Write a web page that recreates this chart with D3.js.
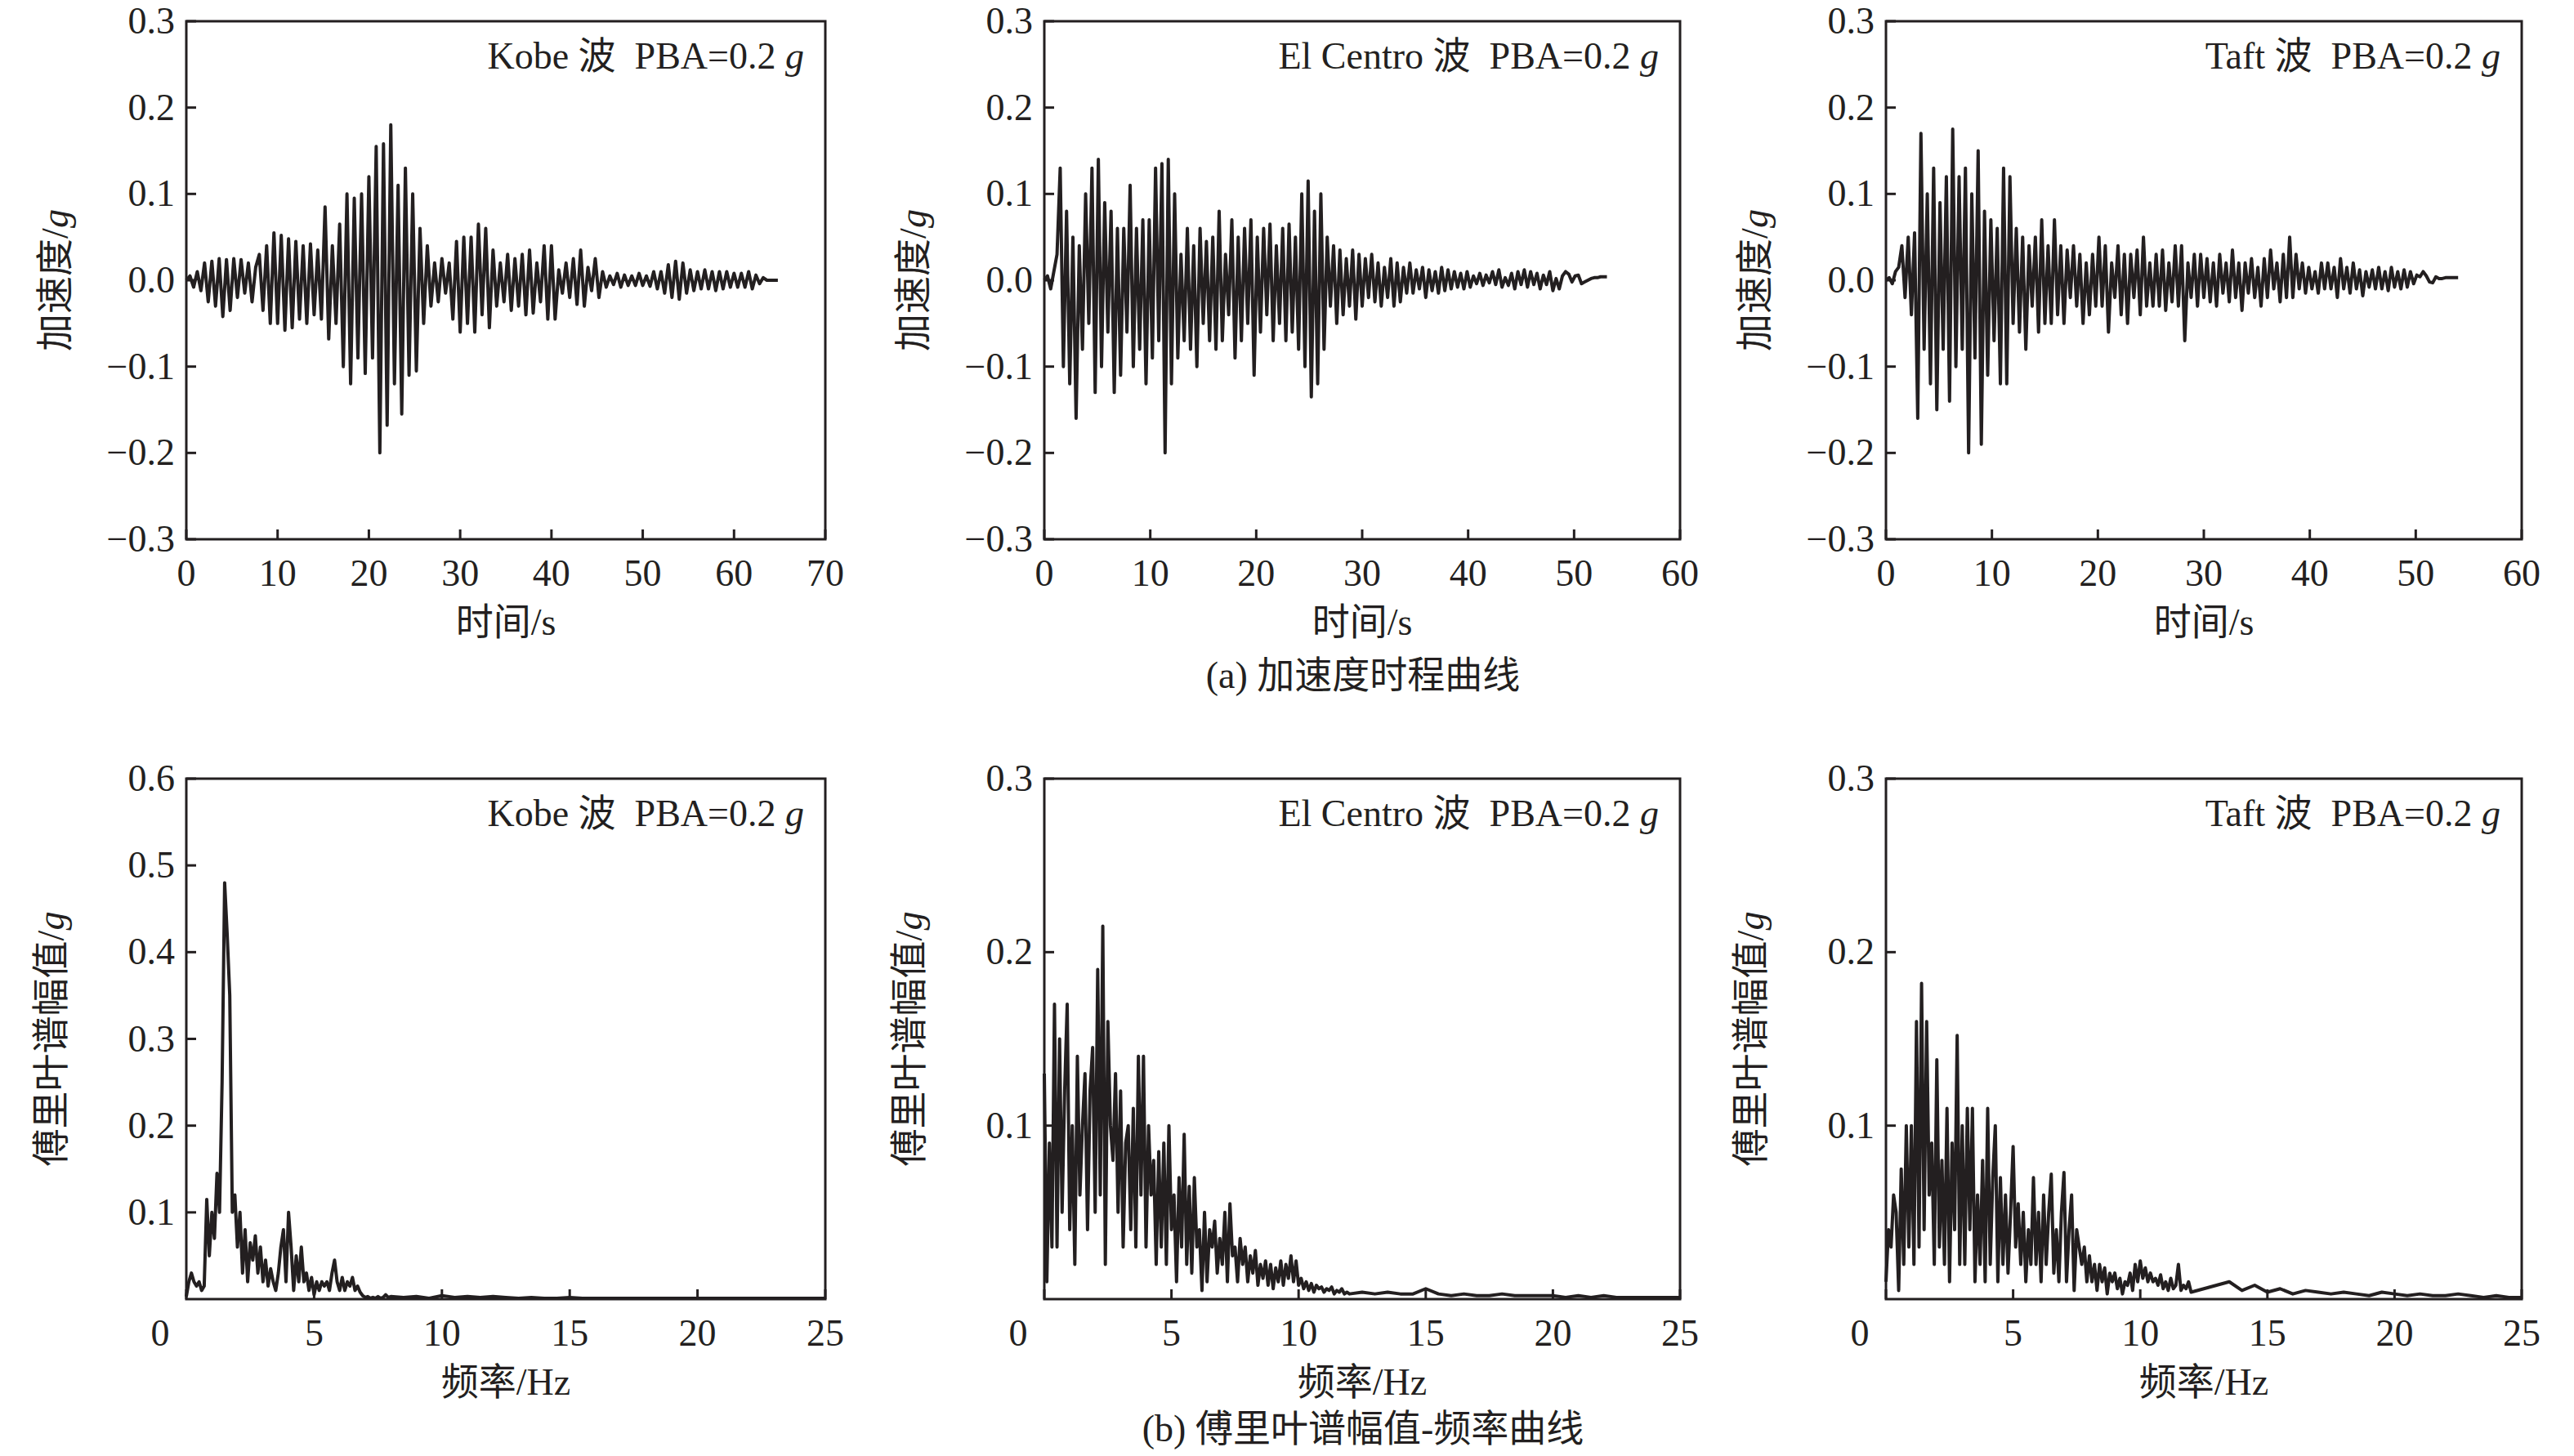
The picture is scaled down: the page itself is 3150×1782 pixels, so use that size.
<!DOCTYPE html>
<html><head><meta charset="utf-8">
<script src="https://cdn.jsdelivr.net/npm/d3@7"></script>
<style>
body{margin:0;background:#fff;}
text{font-family:"Liberation Serif","Noto Sans CJK SC",serif;fill:#231f20;}
</style></head>
<body><svg id="c" width="3150" height="1782"></svg>
<script>
// acceleration records, uniform time step
var kobeDt = 0.4;
var kobeAcc = [0,0.005,-0.008,0.01,-0.012,
 0.02,-0.025,0.022,-0.03,0.025,-0.042,0.024,-0.035,0.025,-0.02,0.024,-0.015,
 0.02,-0.025,0.015,
 0.03,-0.035,0.04,-0.05,0.055,-0.05,0.052,-0.058,0.048,-0.055,0.045,-0.045,0.04,-0.05,0.042,-0.04,0.035,-0.045,
 0.085,-0.068,0.04,-0.05,0.065,
 -0.1,0.1,-0.12,0.095,-0.09,0.1,-0.108,0.12,
 -0.09,0.155,-0.2,0.158,-0.168,0.18,-0.12,0.11,-0.155,0.13,
 -0.11,0.1,-0.105,0.06,-0.05,0.04,-0.03,
 0.02,-0.025,0.025,-0.015,0.02,
 -0.045,0.045,-0.06,0.05,-0.05,0.05,-0.06,0.065,-0.04,0.06,-0.055,0.035,-0.03,0.02,-0.025,
 0.03,-0.035,0.025,-0.03,0.03,-0.04,0.035,-0.038,0.02,-0.025,0.04,-0.045,0.04,-0.045,0.012,-0.015,0.02,-0.02,0.025,-0.028,0.035,-0.03,0.015,-0.012,0.025,-0.02,0.01,-0.008,
 0.005,-0.005,0.008,-0.008,0.006,-0.006,0.005,-0.006,0.008,-0.006,0.005,-0.007,0.01,-0.01,0.01,
 -0.015,0.018,-0.02,0.022,-0.022,0.02,-0.015,0.012,-0.012,0.01,-0.01,0.012,-0.01,0.01,-0.012,
 0.01,-0.01,0.01,-0.008,0.008,-0.008,0.008,-0.008,0.01,-0.01,0.006,-0.004,
 0.003,0,0,0,0];

var elcDt = 0.3;
var elcAcc = [0,0.005,-0.01,0.01,
 0.03,0.13,-0.1,0.08,-0.12,0.05,-0.16,0.04,-0.08,0.1,-0.05,0.13,-0.13,0.14,-0.1,0.09,-0.06,0.08,-0.13,0.06,-0.11,0.06,-0.06,0.11,-0.1,0.06,-0.08,0.07,-0.12,0.07,-0.09,0.13,-0.07,0.135,-0.2,0.14,
 -0.12,0.1,-0.09,0.03,-0.07,0.06,-0.08,0.04,-0.1,0.06,-0.05,0.045,-0.07,0.05,-0.08,0.08,-0.07,0.03,-0.04,0.07,-0.09,0.05,-0.07,0.06,-0.05,0.07,-0.11,0.05,-0.06,0.06,-0.04,0.065,-0.07,0.04,-0.05,0.06,-0.07,0.065,-0.06,0.05,
 -0.08,0.1,-0.1,0.115,-0.135,0.08,-0.12,0.1,-0.08,0.05,
 -0.03,0.04,-0.05,0.035,-0.04,0.025,-0.03,0.035,-0.045,0.03,
 -0.03,0.025,-0.02,0.03,-0.025,0.02,-0.03,0.015,-0.02,0.025,-0.03,0.02,-0.025,0.015,-0.015,0.02,-0.015,0.012,-0.01,0.015,-0.02,0.012,-0.012,0.01,-0.015,0.015,-0.012,0.012,-0.01,0.01,-0.008,0.008,-0.01,
 0.01,-0.008,0.005,-0.004,0.008,-0.006,0.006,-0.003,0.01,-0.005,0.012,-0.008,0.003,-0.006,0.008,-0.01,0.01,-0.005,0.012,-0.008,0.01,-0.005,0.008,-0.01,0.006,-0.005,0.01,-0.012,0.002,-0.01,0.005,0.01,0.007,-0.002,0.005,0.006,-0.004,-0.002,0,0.002,0.003,0.003,0.004,0.004,0.004];

var taftDt = 0.3;
var taftAcc = [0,0.003,-0.004,0.01,0.015,
 0.04,-0.02,0.05,-0.04,0.055,
 -0.16,0.17,-0.08,0.1,-0.12,0.13,-0.15,0.09,-0.08,0.12,-0.14,0.175,-0.1,0.12,-0.08,0.13,-0.2,0.1,-0.09,0.15,-0.19,0.08,-0.11,0.07,-0.07,0.06,-0.12,0.13,-0.12,0.12,
 -0.05,0.06,-0.06,0.05,-0.08,0.04,-0.03,0.05,-0.06,0.07,-0.05,0.04,-0.05,
 0.07,-0.04,0.04,-0.05,0.035,-0.02,0.04,-0.03,0.03,-0.05,0.02,-0.04,0.03,-0.03,0.05,-0.03,0.04,-0.06,0.02,-0.02,0.04,-0.04,0.03,-0.05,0.03,-0.02,0.035,-0.04,0.05,-0.03,0.02,-0.03,0.03,-0.03,0.035,-0.035,0.02,-0.025,0.04,-0.03,0.04,-0.07,0.02,-0.02,0.03,-0.03,0.03,
 -0.02,0.025,-0.025,0.02,-0.03,0.03,-0.015,0.02,-0.025,0.035,-0.02,0.02,-0.035,0.02,-0.015,0.025,-0.02,0.015,-0.03,0.025,-0.02,0.035,-0.01,0.02,-0.025,0.03,-0.02,0.05,-0.02,0.03,-0.01,0.02,-0.015,
 0.015,-0.01,0.01,-0.015,0.02,-0.01,0.02,-0.01,0.015,-0.02,0.025,-0.01,0.015,-0.015,0.02,-0.01,0.012,-0.018,0.01,-0.008,0.012,-0.01,0.015,-0.01,0.01,-0.012,0.015,-0.008,0.01,-0.01,0.012,-0.008,0.01,
 -0.004,0.006,0.004,0.01,0.005,-0.002,-0.003,0.004,0.002,0.002,0.003,0.003,0.003,0.003,0.003];

// Fourier amplitude: dense part every 0.1 Hz from 0, tail every 0.5 Hz
var kobeFas = [0.003,0.02,0.03,0.02,0.015,0.02,0.01,0.015,0.115,0.05,
 0.1,0.07,0.145,0.1,0.25,0.48,0.42,0.35,0.1,0.12,
 0.06,0.1,0.03,0.08,0.02,0.065,0.045,0.073,0.03,0.06,
 0.02,0.045,0.015,0.035,0.02,0.01,0.03,0.06,0.08,0.02,
 0.1,0.06,0.01,0.05,0.02,0.06,0.02,0.03,0.01,0.025,
 0.005,0.02,0.01,0.02,0.015,0.02,0.01,0.03,0.045,0.02,
 0.01,0.025,0.01,0.02,0.015,0.025,0.01,0.015,0.008,0.004,
 0.002,0.003,0.001,0.002,0.001,0.003,0.001,0.002,0.005,0.002,0.003];
var kobeTail = [0.002,0.003,0.001,0.004,0.002,0.003,0.002,0.003,0.002,0.001,0.002,0.001,0.001,0.002,0.001,0.001,0.001,
 0.001,0.001,0.001,0.001,0.001,0.001,0.001,0.001,0.001,0.001,0.001,0.001,0.001,0.001,0.001,0.001,0.001];
var elcFas = [0.13,0.01,0.09,0.03,0.17,0.03,0.15,0.05,0.12,0.17,
 0.04,0.1,0.02,0.14,0.06,0.1,0.13,0.04,0.12,0.145,
 0.05,0.19,0.06,0.215,0.02,0.16,0.1,0.08,0.13,0.05,
 0.12,0.03,0.09,0.1,0.04,0.11,0.03,0.14,0.06,0.14,
 0.03,0.1,0.06,0.08,0.02,0.085,0.03,0.09,0.02,0.1,
 0.04,0.06,0.01,0.07,0.03,0.095,0.02,0.065,0.015,0.07,
 0.03,0.04,0.005,0.05,0.01,0.04,0.03,0.045,0.015,0.035,
 0.02,0.05,0.01,0.055,0.025,0.03,0.01,0.035,0.02,0.03,
 0.01,0.025,0.015,0.028,0.008,0.02,0.012,0.022,0.008,0.02,
 0.006,0.018,0.01,0.022,0.008,0.02,0.012,0.025,0.01,0.022,
 0.008,0.012,0.006,0.01,0.005,0.009,0.004,0.008,0.006,0.007,
 0.004,0.006,0.005,0.007,0.003,0.005,0.004,0.006,0.003,0.004,0.003];
var elcTail = [0.004,0.003,0.004,0.003,0.003,0.006,0.003,0.002,0.003,0.002,0.002,0.003,0.002,
 0.002,0.002,0.002,0.001,0.002,0.001,0.002,0.001,0.001,0.001,0.001,0.001,0.001];
var taftFas = [0.01,0.04,0.03,0.06,0.05,0.005,0.075,0.02,0.1,0.03,
 0.1,0.02,0.16,0.03,0.182,0.04,0.16,0.06,0.09,0.02,
 0.138,0.03,0.08,0.02,0.11,0.01,0.09,0.04,0.152,0.02,
 0.1,0.02,0.11,0.04,0.11,0.01,0.06,0.02,0.08,0.01,
 0.11,0.02,0.07,0.1,0.01,0.07,0.02,0.06,0.015,0.05,
 0.088,0.03,0.055,0.02,0.05,0.01,0.04,0.02,0.07,0.02,
 0.05,0.01,0.06,0.02,0.05,0.072,0.015,0.04,0.01,0.05,
 0.073,0.01,0.04,0.06,0.005,0.04,0.03,0.02,0.03,0.01,
 0.025,0.01,0.02,0.005,0.02,0.01,0.018,0.003,0.015,0.01,
 0.015,0.006,0.012,0.003,0.01,0.008,0.015,0.005,0.02,0.01,
 0.022,0.012,0.018,0.01,0.015,0.01,0.012,0.008,0.014,0.006,
 0.01,0.005,0.012,0.006,0.008,0.02,0.005,0.008,0.006,0.01,0.004];
var taftTail = [0.006,0.008,0.01,0.005,0.008,0.004,0.006,0.003,0.005,0.004,0.003,0.004,0.003,0.002,0.004,0.003,
 0.002,0.003,0.002,0.002,0.003,0.002,0.001,0.002,0.001,0.001];

var waveNames = ["Kobe 波", "El Centro 波", "Taft 波"];
var accTicks = [-0.3,-0.2,-0.1,0,0.1,0.2,0.3];
var timeMax = [70, 60, 60];
var fasMax = [0.6, 0.3, 0.3];
var freqTicks = [0,5,10,15,20,25];

var svg = d3.select("#c");
var colX = [[228,1010],[1278,2056],[2308,3086]];
var rowY = [[26,660],[953,1590]];
var fs = 46;

var fmt = d => d < 0 ? "\u2212" + Math.abs(d).toFixed(1) : d.toFixed(1);

function frame(g, x, y){
    var r = x.range(), t = y.range();
    g.append("rect").attr("x", r[0]).attr("y", t[1]).attr("width", r[1]-r[0]).attr("height", t[0]-t[1])
     .attr("fill","none").attr("stroke","#231f20").attr("stroke-width",3);
}

function axes(g, x, y, xt, yt, xfmt, yfmt, firstShift){
    var r = x.range(), t = y.range();
    xt.forEach((v,i) => {
        g.append("line").attr("x1",x(v)).attr("x2",x(v)).attr("y1",t[0]).attr("y2",t[0]-12).attr("stroke","#231f20").attr("stroke-width",3);
        g.append("text").attr("x", x(v) - (i==0 ? firstShift : 0)).attr("y", t[0]+57).attr("text-anchor","middle")
         .attr("font-size",fs).text(xfmt(v));
    });
    yt.forEach(v => {
        g.append("line").attr("x1",r[0]).attr("x2",r[0]+12).attr("y1",y(v)).attr("y2",y(v)).attr("stroke","#231f20").attr("stroke-width",3);
        g.append("text").attr("x", r[0]-14).attr("y", y(v)+15).attr("text-anchor","end")
         .attr("font-size",fs).text(yfmt(v));
    });
}

function label(g, x, y, name){
    var tx = g.append("text").attr("x", x.range()[1]-26).attr("y", y.range()[1]+58)
      .attr("text-anchor","end").attr("font-size",fs).attr("xml:space","preserve");
    tx.append("tspan").text(name + "  PBA=0.2");
    tx.append("tspan").attr("font-style","italic").text(" g");
}

function ylabel(g, cx, cy, txt){
    var tx = g.append("text").attr("transform","translate("+cx+","+cy+") rotate(-90)")
      .attr("text-anchor","middle").attr("font-size",fs);
    tx.append("tspan").text(txt);
    tx.append("tspan").attr("font-style","italic").text("g");
}

var line = d3.line();

// top row: acceleration time histories
[[kobeAcc,kobeDt],[elcAcc,elcDt],[taftAcc,taftDt]].forEach((s,i) => {
    var g = svg.append("g");
    var x = d3.scaleLinear().domain([0,timeMax[i]]).range(colX[i]);
    var y = d3.scaleLinear().domain([-0.3,0.3]).range([rowY[0][1], rowY[0][0]]);
    var pts = s[0].map((v,k) => [x(k*s[1]), y(v)]);
    g.append("path").attr("d", line(pts)).attr("fill","none").attr("stroke","#231f20")
     .attr("stroke-width",4).attr("stroke-linejoin","round");
    frame(g, x, y);
    axes(g, x, y, d3.range(0, timeMax[i]+1, 10), accTicks, d => d, fmt, 0);
    label(g, x, y, waveNames[i]);
    ylabel(g, colX[i][0]-145, (rowY[0][0]+rowY[0][1])/2, "加速度/");
    g.append("text").attr("x",(colX[i][0]+colX[i][1])/2).attr("y",rowY[0][1]+117)
     .attr("text-anchor","middle").attr("font-size",fs).text("时间/s");
});

// bottom row: Fourier amplitude spectra
[[kobeFas,kobeTail],[elcFas,elcTail],[taftFas,taftTail]].forEach((s,i) => {
    var g = svg.append("g");
    var x = d3.scaleLinear().domain([0,25]).range(colX[i]);
    var y = d3.scaleLinear().domain([0,fasMax[i]]).range([rowY[1][1], rowY[1][0]]);
    var n0 = s[0].length;
    var pts = s[0].map((v,k) => [x(k*0.1), y(v)])
      .concat(s[1].map((v,k) => [x((n0-1)*0.1 + 0.5*(k+1)), y(v)]));
    g.append("path").attr("d", line(pts)).attr("fill","none").attr("stroke","#231f20")
     .attr("stroke-width",4).attr("stroke-linejoin","round");
    frame(g, x, y);
    var yt = d3.range(0.1, fasMax[i]+0.001, 0.1);
    axes(g, x, y, freqTicks, yt, d => d, d => d.toFixed(1), 32);
    label(g, x, y, waveNames[i]);
    ylabel(g, colX[i][0]-150, (rowY[1][0]+rowY[1][1])/2, "傅里叶谱幅值/");
    g.append("text").attr("x",(colX[i][0]+colX[i][1])/2).attr("y",rowY[1][1]+117)
     .attr("text-anchor","middle").attr("font-size",fs).text("频率/Hz");
});

svg.append("text").attr("x",1668).attr("y",842).attr("text-anchor","middle").attr("font-size",fs).text("(a) 加速度时程曲线");
svg.append("text").attr("x",1668).attr("y",1764).attr("text-anchor","middle").attr("font-size",fs).text("(b) 傅里叶谱幅值-频率曲线");
</script></body></html>
